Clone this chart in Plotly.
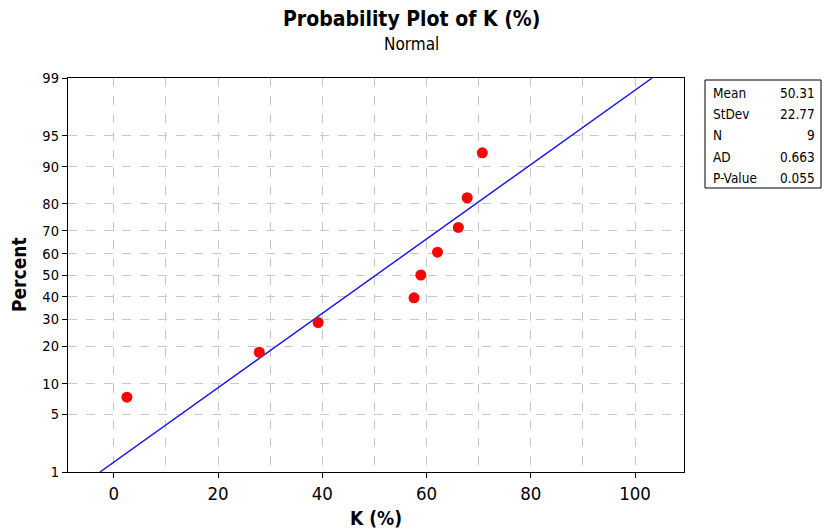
from statistics import NormalDist
import numpy as np
import plotly.graph_objects as go

# K (%) observations
k_values = [2.5, 27.9, 39.2, 57.6, 58.9, 62.1, 66.1, 67.8, 70.7]
percent_ticks = [1, 5, 10, 20, 30, 40, 50, 60, 70, 80, 90, 95, 99]
x_ticks = [0, 20, 40, 60, 80, 100]

nd = NormalDist()
x = np.sort(np.array(k_values))
n = len(x)
mean = x.mean()
sd = x.std(ddof=1)

# median ranks (Benard) -> normal scores
ranks = np.arange(1, n + 1)
pct = (ranks - 0.3) / (n + 0.4)
z_pts = [nd.inv_cdf(p) for p in pct]

# fitted normal line between 1% and 99%
z_lo, z_hi = nd.inv_cdf(0.01), nd.inv_cdf(0.99)
z_line = np.linspace(z_lo, z_hi, 200)
x_line = mean + sd * z_line

FONT = "'DejaVu Sans Condensed', 'DejaVu Sans', sans-serif"
NARROW = "'Liberation Sans Narrow', 'DejaVu Sans Condensed', sans-serif"

# plot area in pixels
L, R, T, B = 68, 684, 78, 472
W, H = 823, 532


def px_x(px):
    return (px - L) / (R - L)


def px_y(py):
    return (B - py) / (B - T)


fig = go.Figure()
fig.add_trace(go.Scatter(x=x_line, y=z_line, mode="lines",
                         line=dict(color="#1010ee", width=1.4),
                         hoverinfo="skip"))
fig.add_trace(go.Scatter(x=x, y=z_pts, mode="markers",
                         marker=dict(color="#ff0000", size=11,
                                     line=dict(width=0)),
                         customdata=pct * 100,
                         hovertemplate="%{x}<br>%{customdata:.1f}%<extra></extra>"))

fig.update_layout(
    width=W, height=H,
    margin=dict(l=L, r=W - R, t=T, b=H - B, autoexpand=False),
    paper_bgcolor="white", plot_bgcolor="white",
    showlegend=False,
    font=dict(family=FONT, color="black", size=14),
)

# title, subtitle and axis titles
fig.add_annotation(xref="paper", yref="paper", x=px_x(W / 2), y=px_y(19),
                   text="<b>Probability Plot of K (%)</b>", showarrow=False,
                   xanchor="center", yanchor="middle",
                   font=dict(family=FONT, size=21))
fig.add_annotation(xref="paper", yref="paper", x=px_x(W / 2), y=px_y(44),
                   text="Normal", showarrow=False,
                   xanchor="center", yanchor="middle",
                   font=dict(family=FONT, size=17))
fig.add_annotation(xref="paper", yref="paper", x=0.5, y=px_y(518),
                   text="<b>K (%)</b>", showarrow=False,
                   xanchor="center", yanchor="middle",
                   font=dict(family=FONT, size=19))
fig.add_annotation(xref="paper", yref="paper", x=px_x(19), y=0.5,
                   text="<b>Percent</b>", showarrow=False, textangle=-90,
                   xanchor="center", yanchor="middle",
                   font=dict(family=FONT, size=19))

fig.update_xaxes(
    range=[-8.8, 109.4], tickvals=x_ticks, automargin=False,
    ticks="outside", ticklen=5, tickcolor="black",
    showline=True, linecolor="black", linewidth=1.3, mirror=True,
    showgrid=False, zeroline=False,
    minor=dict(dtick=10, tick0=0, showgrid=True, gridcolor="#c8c8c8",
               griddash="dash", gridwidth=1, ticks=""),
    tickfont=dict(size=18.5),
)

fig.update_yaxes(
    range=[z_lo, z_hi], automargin=False,
    tickvals=[nd.inv_cdf(p / 100) for p in percent_ticks],
    ticktext=[str(p) for p in percent_ticks],
    ticks="outside", ticklen=5, tickcolor="black",
    showline=True, linecolor="black", linewidth=1.3, mirror=True,
    showgrid=True, gridcolor="#c8c8c8", griddash="dash", gridwidth=1,
    zeroline=False,
    tickfont=dict(size=14.5),
)

# statistics box
ad_stat, p_value = 0.663, 0.055
rows = [("Mean", f"{mean:.2f}"), ("StDev", f"{sd:.2f}"), ("N", f"{n}"),
        ("AD", f"{ad_stat:.3f}"), ("P-Value", f"{p_value:.3f}")]

fig.add_shape(type="rect", xref="paper", yref="paper",
              x0=px_x(705), x1=px_x(821), y0=px_y(188), y1=px_y(80),
              line=dict(color="black", width=1), fillcolor="white")
for i, (lab, val) in enumerate(rows):
    yy = px_y(93 + i * 21.2)
    fig.add_annotation(xref="paper", yref="paper", x=px_x(711), y=yy,
                       text=lab, showarrow=False, xanchor="left",
                       yanchor="middle", font=dict(family=NARROW, size=13.5))
    fig.add_annotation(xref="paper", yref="paper", x=px_x(817), y=yy,
                       text=val, showarrow=False, xanchor="right",
                       yanchor="middle", font=dict(family=NARROW, size=13.5))

fig.write_html("out.html")
